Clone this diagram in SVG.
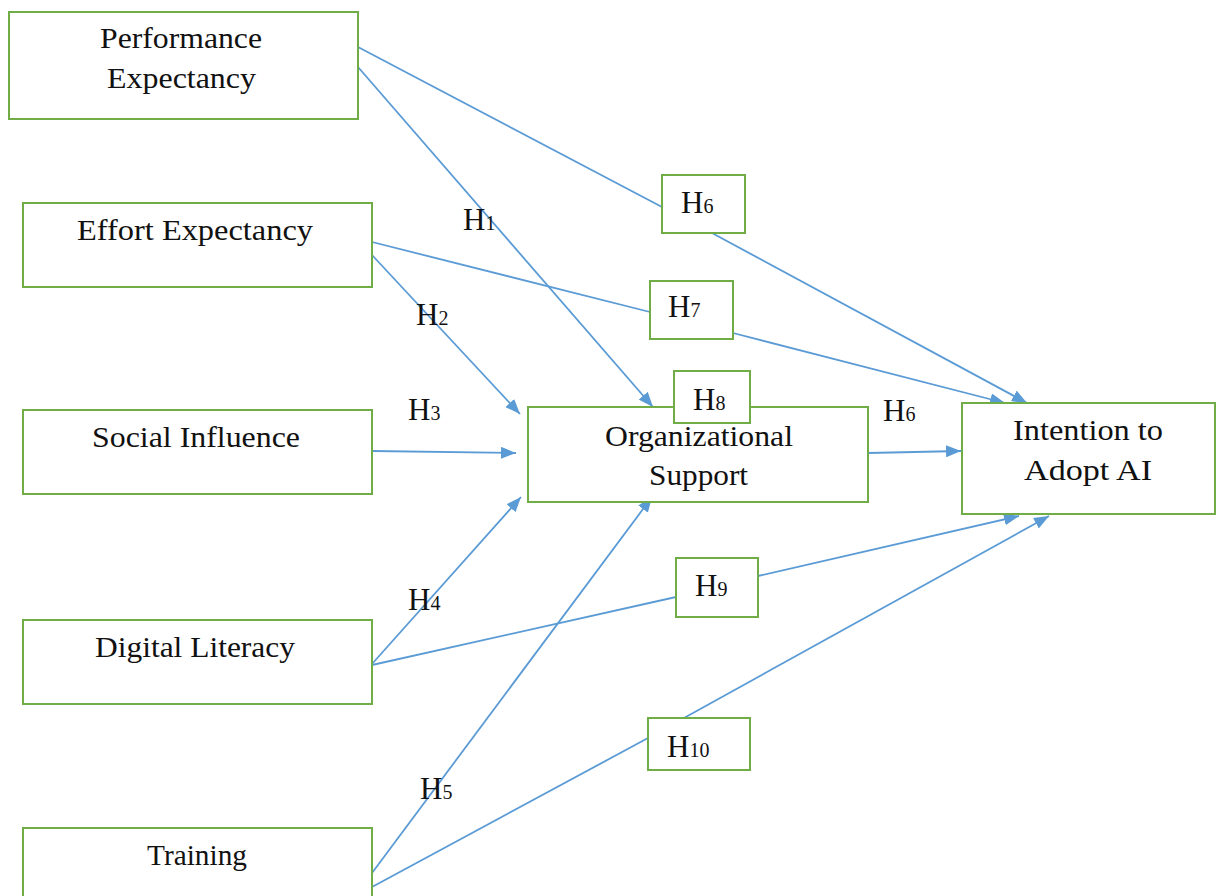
<svg xmlns="http://www.w3.org/2000/svg" width="1216" height="896" viewBox="0 0 1216 896">
<style>
.box{fill:#fff;stroke:#70AD47;stroke-width:2}
.t{font-family:"Liberation Serif","Times New Roman",serif;font-size:30px;fill:#111}
.h{font-family:"Liberation Serif","Times New Roman",serif;font-size:31px;fill:#111}
.s{font-size:20px}
.c{fill:none;stroke:#5B9BD5;stroke-width:1.8}
</style>
<defs>
<marker id="ar" markerUnits="userSpaceOnUse" markerWidth="16" markerHeight="12" refX="15" refY="6" orient="auto">
<path d="M0,0 L15,6 L0,12 z" fill="#5B9BD5"/>
</marker>
</defs>
<rect width="1216" height="896" fill="#fff"/>
<g id="connectors">
<path class="c" d="M358,47 L662,207"/>
<path class="c" d="M712,233 L1027,403" marker-end="url(#ar)"/>
<path class="c" d="M358,67 L653,407" marker-end="url(#ar)"/>
<path class="c" d="M372,242 L650,312"/>
<path class="c" d="M733,333 L1005,403" marker-end="url(#ar)"/>
<path class="c" d="M372,255 L520,414" marker-end="url(#ar)"/>
<path class="c" d="M372,451 L516,453" marker-end="url(#ar)"/>
<path class="c" d="M868,453 L961,451" marker-end="url(#ar)"/>
<path class="c" d="M372,664 L521,497" marker-end="url(#ar)"/>
<path class="c" d="M372,665 L676,597"/>
<path class="c" d="M758,576 L1019,516" marker-end="url(#ar)"/>
<path class="c" d="M372,873 L652,497" marker-end="url(#ar)"/>
<path class="c" d="M372,887 L648,738"/>
<path class="c" d="M684,718 L1049,516" marker-end="url(#ar)"/>
</g>
<g id="pe"><rect class="box" x="9" y="12" width="349" height="107"/>
<text class="t" x="100" y="48" textLength="162" lengthAdjust="spacingAndGlyphs">Performance</text>
<text class="t" x="107" y="88" textLength="149" lengthAdjust="spacingAndGlyphs">Expectancy</text></g>
<g id="ee"><rect class="box" x="23" y="203" width="349" height="84"/>
<text class="t" x="77" y="240" textLength="236" lengthAdjust="spacingAndGlyphs">Effort Expectancy</text></g>
<g id="si"><rect class="box" x="23" y="410" width="349" height="84"/>
<text class="t" x="92" y="447" textLength="208" lengthAdjust="spacingAndGlyphs">Social Influence</text></g>
<g id="dl"><rect class="box" x="23" y="620" width="349" height="84"/>
<text class="t" x="95" y="657" textLength="200" lengthAdjust="spacingAndGlyphs">Digital Literacy</text></g>
<g id="tr"><rect class="box" x="23" y="828" width="349" height="84"/>
<text class="t" x="147" y="865" textLength="100" lengthAdjust="spacingAndGlyphs">Training</text></g>
<g id="os"><rect class="box" x="528" y="407" width="340" height="95"/>
<text class="t" x="605" y="446" textLength="188" lengthAdjust="spacingAndGlyphs">Organizational</text>
<text class="t" x="649" y="485" textLength="99" lengthAdjust="spacingAndGlyphs">Support</text></g>
<g id="ia"><rect class="box" x="962" y="403" width="253" height="111"/>
<text class="t" x="1013" y="440" textLength="150" lengthAdjust="spacingAndGlyphs">Intention to</text>
<text class="t" x="1024" y="480" textLength="128" lengthAdjust="spacingAndGlyphs">Adopt AI</text></g>
<g id="h6b"><rect class="box" x="662" y="175" width="83" height="58"/>
<text class="h" x="681" y="213">H<tspan class="s">6</tspan></text></g>
<g id="h7b"><rect class="box" x="650" y="281" width="83" height="58"/>
<text class="h" x="668" y="317">H<tspan class="s">7</tspan></text></g>
<g id="h8b"><rect class="box" x="674" y="371" width="76" height="52"/>
<text class="h" x="693" y="410">H<tspan class="s">8</tspan></text></g>
<g id="h9b"><rect class="box" x="676" y="558" width="82" height="59"/>
<text class="h" x="695" y="596">H<tspan class="s">9</tspan></text></g>
<g id="h10b"><rect class="box" x="648" y="718" width="102" height="52"/>
<text class="h" x="667" y="757">H<tspan class="s">10</tspan></text></g>
<g id="labels">
<text class="h" x="463" y="230">H<tspan class="s">1</tspan></text>
<text class="h" x="416" y="325">H<tspan class="s">2</tspan></text>
<text class="h" x="408" y="420">H<tspan class="s">3</tspan></text>
<text class="h" x="408" y="610">H<tspan class="s">4</tspan></text>
<text class="h" x="420" y="799">H<tspan class="s">5</tspan></text>
<text class="h" x="883" y="421">H<tspan class="s">6</tspan></text>
</g>
</svg>
